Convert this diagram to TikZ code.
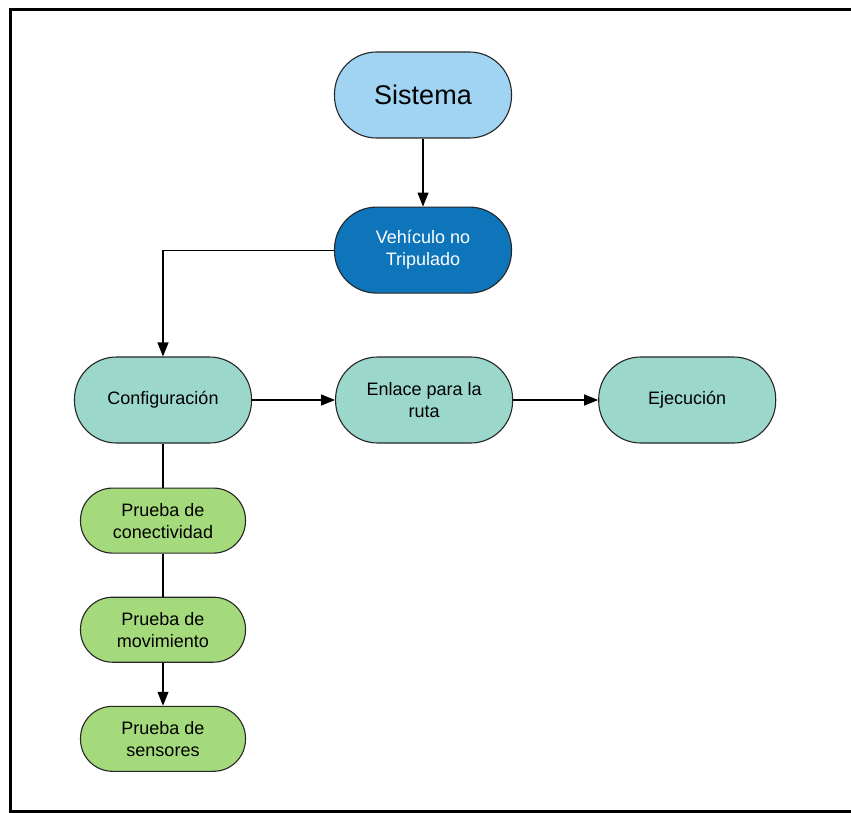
\documentclass[tikz,border=0pt]{standalone}
\usepackage{fontspec}
\setmainfont{Liberation Sans}
\usepackage{xcolor}
\usetikzlibrary{arrows.meta,positioning}

\definecolor{sysblue}{RGB}{160,212,242}
\definecolor{uavblue}{RGB}{14,117,187}
\definecolor{stagegreen}{RGB}{156,215,203}
\definecolor{testgreen}{RGB}{164,218,124}

\begin{document}
\begin{tikzpicture}[
    x=1pt, y=-1pt,
    node distance=44pt and 83pt,
    pill/.style={draw=black!85, line width=1.1pt, rounded corners=42pt, align=center,
      minimum width=177pt, minimum height=86pt, font=\fontsize{18}{22}\selectfont},
    test/.style={pill, rounded corners=32pt, minimum width=165pt, minimum height=65pt, fill=testgreen},
    arrow/.style={-{Triangle[length=14pt,width=11pt]}, line width=1.1pt},
    link/.style={line width=1.1pt}
  ]
    \useasboundingbox (0,0) rectangle (851,813);
    \draw[line width=3pt] (860,10) -- (10,10) -- (10,811) -- (860,811);

    \node[pill, fill=sysblue, font=\fontsize{27}{32}\selectfont] (sys) at (423,95) {Sistema};
    \node[pill, fill=uavblue, text=white, below=68pt of sys] (uav) {Vehículo no\\Tripulado};
    \node[pill, fill=stagegreen] (conf) at (163,400) {Configuración};
    \node[pill, fill=stagegreen, right=of conf] (link) {Enlace para la\\ruta};
    \node[pill, fill=stagegreen, right=85pt of link] (exec) {Ejecución};
    \node[test, below=of conf] (conn) {Prueba de\\conectividad};
    \node[test, below=43pt of conn] (move) {Prueba de\\movimiento};
    \node[test, below=43pt of move] (sens) {Prueba de\\sensores};

    \draw[arrow] (sys) -- (uav);
    \draw[arrow] (uav.west) -| (conf.north);
    \draw[arrow] (conf) -- (link);
    \draw[arrow] (link) -- (exec);
    \draw[link] (conf) -- (conn);
    \draw[link] (conn) -- (move);
    \draw[arrow] (move) -- (sens);
  \end{tikzpicture}
\end{document}
